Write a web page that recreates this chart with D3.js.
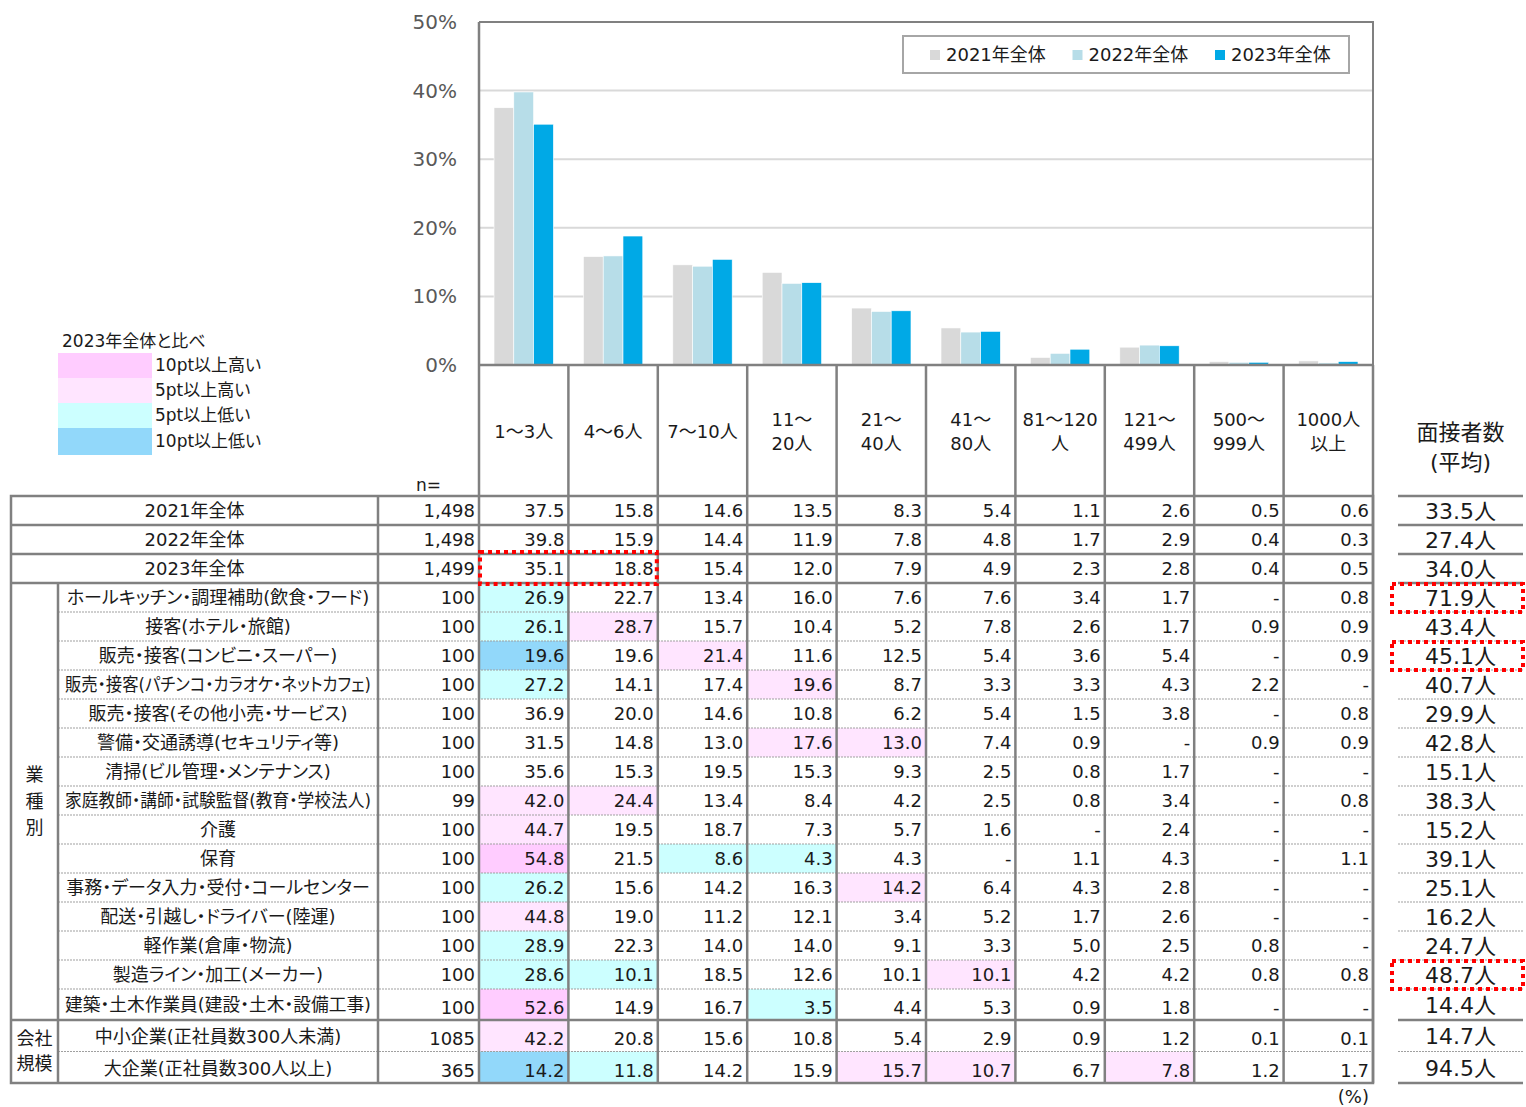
<!DOCTYPE html>
<html>
<head>
<meta charset="utf-8">
<script src="https://cdn.jsdelivr.net/npm/d3@7"></script>
<style>
body { margin: 0; background: #fff; }
svg text { font-family: "DejaVu Sans", "Noto Sans CJK JP", sans-serif; fill: #1a1a1a; font-feature-settings: "palt"; }
</style>
</head>
<body>
<div id="chart"></div>
<script>
// ---- data ----
var categories = ["1～3人", "4～6人", "7～10人", "11～20人", "21～40人", "41～80人", "81～120人", "121～499人", "500～999人", "1000人以上"];
var headerLines = [["1～3人"], ["4～6人"], ["7～10人"], ["11～", "20人"], ["21～", "40人"], ["41～", "80人"],
    ["81～120", "人"], ["121～", "499人"], ["500～", "999人"], ["1000人", "以上"]];
var seriesNames = ["2021年全体", "2022年全体", "2023年全体"];

var rowLabels = [
    "2021年全体", "2022年全体", "2023年全体",
    "ホールキッチン・調理補助(飲食・フード)",
    "接客(ホテル・旅館)",
    "販売・接客(コンビニ・スーパー)",
    "販売・接客(パチンコ・カラオケ・ネットカフェ)",
    "販売・接客(その他小売・サービス)",
    "警備・交通誘導(セキュリティ等)",
    "清掃(ビル管理・メンテナンス)",
    "家庭教師・講師・試験監督(教育・学校法人)",
    "介護",
    "保育",
    "事務・データ入力・受付・コールセンター",
    "配送・引越し・ドライバー(陸運)",
    "軽作業(倉庫・物流)",
    "製造ライン・加工(メーカー)",
    "建築・土木作業員(建設・土木・設備工事)",
    "中小企業(正社員数300人未満)",
    "大企業(正社員数300人以上)"
];
var rowN = ["1,498", "1,498", "1,499", "100", "100", "100", "100", "100", "100", "100", "99", "100", "100",
    "100", "100", "100", "100", "100", "1085", "365"];
var rowValues = [
    [37.5, 15.8, 14.6, 13.5, 8.3, 5.4, 1.1, 2.6, 0.5, 0.6],
    [39.8, 15.9, 14.4, 11.9, 7.8, 4.8, 1.7, 2.9, 0.4, 0.3],
    [35.1, 18.8, 15.4, 12.0, 7.9, 4.9, 2.3, 2.8, 0.4, 0.5],
    [26.9, 22.7, 13.4, 16.0, 7.6, 7.6, 3.4, 1.7, null, 0.8],
    [26.1, 28.7, 15.7, 10.4, 5.2, 7.8, 2.6, 1.7, 0.9, 0.9],
    [19.6, 19.6, 21.4, 11.6, 12.5, 5.4, 3.6, 5.4, null, 0.9],
    [27.2, 14.1, 17.4, 19.6, 8.7, 3.3, 3.3, 4.3, 2.2, null],
    [36.9, 20.0, 14.6, 10.8, 6.2, 5.4, 1.5, 3.8, null, 0.8],
    [31.5, 14.8, 13.0, 17.6, 13.0, 7.4, 0.9, null, 0.9, 0.9],
    [35.6, 15.3, 19.5, 15.3, 9.3, 2.5, 0.8, 1.7, null, null],
    [42.0, 24.4, 13.4, 8.4, 4.2, 2.5, 0.8, 3.4, null, 0.8],
    [44.7, 19.5, 18.7, 7.3, 5.7, 1.6, null, 2.4, null, null],
    [54.8, 21.5, 8.6, 4.3, 4.3, null, 1.1, 4.3, null, 1.1],
    [26.2, 15.6, 14.2, 16.3, 14.2, 6.4, 4.3, 2.8, null, null],
    [44.8, 19.0, 11.2, 12.1, 3.4, 5.2, 1.7, 2.6, null, null],
    [28.9, 22.3, 14.0, 14.0, 9.1, 3.3, 5.0, 2.5, 0.8, null],
    [28.6, 10.1, 18.5, 12.6, 10.1, 10.1, 4.2, 4.2, 0.8, 0.8],
    [52.6, 14.9, 16.7, 3.5, 4.4, 5.3, 0.9, 1.8, null, null],
    [42.2, 20.8, 15.6, 10.8, 5.4, 2.9, 0.9, 1.2, 0.1, 0.1],
    [14.2, 11.8, 14.2, 15.9, 15.7, 10.7, 6.7, 7.8, 1.2, 1.7]
];
var interviewAvg = [33.5, 27.4, 34.0, 71.9, 43.4, 45.1, 40.7, 29.9, 42.8, 15.1, 38.3, 15.2, 39.1, 25.1, 16.2, 24.7, 48.7, 14.4, 14.7, 94.5];

var groupBlocks = [
    { lines: ["業", "種", "別"], from: 3, to: 17 },
    { lines: ["会社", "規模"], from: 18, to: 19 }
];
var shadeLabels = ["10pt以上高い", "5pt以上高い", "5pt以上低い", "10pt以上低い"];
var boxedCells = [[2, 0], [2, 1]];
var boxedAvg = [3, 5, 16];

// ---- layout ----
var width = 1526, height = 1107;
var plotL = 479, plotR = 1373, plotT = 22, plotB = 365;
var tableL = 11, groupR = 58, labelR = 378, tableT = 496;
var avgL = 1398, avgR = 1523;
var gray = "#808080";
var barColors = ["#d9d9d9", "#b7dde8", "#00a9e6"];
var shadeColors = ["#ffccff", "#ffe5ff", "#ccffff", "#92d8fa"];

var svg = d3.select("#chart").append("svg")
    .attr("width", width)
    .attr("height", height);

var x = d3.scaleBand().domain(categories).range([plotL, plotR]).paddingInner(0);
var bw = x.bandwidth();
var xs = d3.scaleBand().domain(seriesNames).range([bw * 0.168, bw * 0.832]);
var y = d3.scaleLinear().domain([0, 50]).range([plotB, plotT]);

// gridlines
svg.append("g").selectAll("line")
    .data([10, 20, 30, 40])
    .enter().append("line")
    .attr("x1", plotL).attr("x2", plotR)
    .attr("y1", function (d) { return y(d); })
    .attr("y2", function (d) { return y(d); })
    .attr("stroke", "#d9d9d9").attr("stroke-width", 2);

// bars
var groups = svg.append("g").selectAll("g")
    .data(categories)
    .enter().append("g")
    .attr("transform", function (d) { return "translate(" + x(d) + ",0)"; });

groups.selectAll("rect")
    .data(function (d, j) { return seriesNames.map(function (s, k) { return { s: s, k: k, v: rowValues[k][j] }; }); })
    .enter().append("rect")
    .attr("x", function (d) { return xs(d.s); })
    .attr("width", xs.bandwidth())
    .attr("y", function (d) { return y(d.v); })
    .attr("height", function (d) { return plotB - y(d.v); })
    .attr("fill", function (d) { return barColors[d.k]; })
    .attr("stroke", "#fff").attr("stroke-width", 0.6);

// y axis
var yAxis = svg.append("g")
    .attr("transform", "translate(" + plotL + ",0)")
    .call(d3.axisLeft(y).tickValues([0, 10, 20, 30, 40, 50]).tickFormat(function (d) { return d + "%"; })
        .tickSize(0).tickPadding(22));
yAxis.select(".domain").remove();
yAxis.selectAll("text")
    .style("font-size", "20px")
    .style("fill", "#595959")
    .style("font-family", "DejaVu Sans, Noto Sans CJK JP, sans-serif");

// plot frame
svg.append("path")
    .attr("d", "M" + plotL + "," + plotT + "H" + plotR + "V" + plotB)
    .attr("fill", "none").attr("stroke", gray).attr("stroke-width", 2);

// top legend
var legend = svg.append("g");
legend.append("rect")
    .attr("x", 903).attr("y", 36).attr("width", 446).attr("height", 37)
    .attr("fill", "#fff").attr("stroke", "#a6a6a6").attr("stroke-width", 2);
seriesNames.forEach(function (s, k) {
    var lx = 930 + k * 142.5;
    legend.append("rect").attr("x", lx).attr("y", 50).attr("width", 10).attr("height", 10).attr("fill", barColors[k]);
    legend.append("text").attr("x", lx + 16).attr("y", 55).attr("dy", "0.35em")
        .style("font-size", "18px").text(s);
});

// left shading legend
svg.append("text").attr("x", 62).attr("y", 341).attr("dy", "0.35em")
    .style("font-size", "17px").text("2023年全体と比べ");
var swTop = [353, 378, 403, 428, 455];
shadeLabels.forEach(function (s, k) {
    svg.append("rect").attr("x", 58).attr("y", swTop[k]).attr("width", 94).attr("height", swTop[k + 1] - swTop[k])
        .attr("fill", shadeColors[k]);
    svg.append("text").attr("x", 155).attr("y", (swTop[k] + swTop[k + 1]) / 2).attr("dy", "0.35em")
        .style("font-size", "17px").text(s);
});

// header labels
headerLines.forEach(function (lines, j) {
    var cx = x(categories[j]) + bw / 2;
    var y0 = lines.length === 1 ? 432 : 420;
    lines.forEach(function (t, m) {
        svg.append("text").attr("x", cx).attr("y", y0 + m * 24).attr("dy", "0.35em")
            .attr("text-anchor", "middle").style("font-size", "18px").text(t);
    });
});
svg.append("text").attr("x", 416).attr("y", 485).attr("dy", "0.35em").style("font-size", "17px").text("n=");
svg.append("text").attr("x", (avgL + avgR) / 2).attr("y", 432).attr("dy", "0.35em")
    .attr("text-anchor", "middle").style("font-size", "22px").text("面接者数");
svg.append("text").attr("x", (avgL + avgR) / 2).attr("y", 462).attr("dy", "0.35em")
    .attr("text-anchor", "middle").style("font-size", "22px").text("(平均)");

// rows
function rowHeight(i) { return i < 17 ? 29 : (i === 17 ? 31 : 31.5); }
var rowTops = [];
var acc = tableT;
rowLabels.forEach(function (d, i) { rowTops.push(acc); acc += rowHeight(i); });
var tableB = acc;

function shadeFor(v, base) {
    var d = Math.round(((v == null ? 0 : v) - base) * 10) / 10;
    if (d >= 10) return shadeColors[0];
    if (d >= 5) return shadeColors[1];
    if (d <= -10) return shadeColors[3];
    if (d <= -5) return shadeColors[2];
    return null;
}

var cells = svg.append("g");
var texts = svg.append("g");
rowLabels.forEach(function (label, i) {
    var top = rowTops[i], h = rowHeight(i), cy = top + h / 2;
    var vOff = i >= 17 ? 3 : 0;
    // label
    var lx = i < 3 ? (tableL + labelR) / 2 : (groupR + labelR) / 2;
    var lt = texts.append("text").attr("x", lx).attr("y", cy + (i >= 18 ? 1 : 0)).attr("dy", "0.35em")
        .attr("text-anchor", "middle").style("font-size", "18px").text(label);
    var maxW = labelR - groupR - 14;
    if (lt.node().getComputedTextLength() > maxW) {
        lt.attr("textLength", maxW).attr("lengthAdjust", "spacingAndGlyphs");
    }
    // n
    texts.append("text").attr("x", labelR + 97).attr("y", cy + vOff).attr("dy", "0.35em")
        .attr("text-anchor", "end").style("font-size", "18px").text(rowN[i]);
    // values
    rowValues[i].forEach(function (v, j) {
        var cx0 = x(categories[j]);
        if (i >= 3) {
            var c = shadeFor(v, rowValues[2][j]);
            if (c) cells.append("rect").attr("x", cx0).attr("y", top).attr("width", bw).attr("height", h).attr("fill", c);
        }
        texts.append("text").attr("x", cx0 + bw - 4).attr("y", cy + vOff).attr("dy", "0.35em")
            .attr("text-anchor", "end").style("font-size", "18px")
            .text(v == null ? "-" : v.toFixed(1));
    });
    // average
    texts.append("text").attr("x", (avgL + avgR) / 2).attr("y", cy + 1).attr("dy", "0.35em")
        .attr("text-anchor", "middle").style("font-size", "22px").text(interviewAvg[i].toFixed(1) + "人");
});

// group labels
groupBlocks.forEach(function (g) {
    var mid = (rowTops[g.from] + rowTops[g.to] + rowHeight(g.to)) / 2;
    var step = g.lines.length === 3 ? 26.5 : 25;
    g.lines.forEach(function (t, m) {
        texts.append("text").attr("x", (tableL + groupR) / 2)
            .attr("y", mid + (m - (g.lines.length - 1) / 2) * step).attr("dy", "0.35em")
            .attr("text-anchor", "middle").style("font-size", "18px").text(t);
    });
});

// table lines
var lines = svg.append("g").attr("fill", "none");
rowTops.forEach(function (top, i) {
    if (i === 0) return;
    var solid = i <= 3 || i === 18;
    lines.append("line")
        .attr("x1", solid ? tableL : groupR).attr("x2", plotR)
        .attr("y1", top).attr("y2", top)
        .attr("stroke", solid ? gray : "#a0a0a0")
        .attr("stroke-width", solid ? 2.5 : 1.2)
        .attr("stroke-dasharray", solid ? null : "2,1");
});
// average column lines
var avgLines = [tableT].concat(rowTops.slice(1)).concat([tableB]);
avgLines.forEach(function (yy, k) {
    var solid = k <= 3 || k === 18 || k === avgLines.length - 1;
    lines.append("line")
        .attr("x1", avgL).attr("x2", avgR).attr("y1", yy).attr("y2", yy)
        .attr("stroke", solid ? gray : "#a0a0a0")
        .attr("stroke-width", solid ? 2.5 : 1.2)
        .attr("stroke-dasharray", solid ? null : "2,1");
});
// verticals
categories.forEach(function (c, j) {
    lines.append("line").attr("x1", x(c) + bw).attr("x2", x(c) + bw)
        .attr("y1", plotB).attr("y2", tableB).attr("stroke", gray).attr("stroke-width", 2.5);
});
lines.append("line").attr("x1", plotL).attr("x2", plotL).attr("y1", plotT).attr("y2", tableB)
    .attr("stroke", gray).attr("stroke-width", 2.5);
lines.append("line").attr("x1", plotL).attr("x2", plotR).attr("y1", plotB).attr("y2", plotB)
    .attr("stroke", gray).attr("stroke-width", 2.5);
lines.append("line").attr("x1", labelR).attr("x2", labelR).attr("y1", tableT).attr("y2", tableB)
    .attr("stroke", gray).attr("stroke-width", 2.5);
lines.append("line").attr("x1", groupR).attr("x2", groupR).attr("y1", rowTops[3]).attr("y2", tableB)
    .attr("stroke", gray).attr("stroke-width", 2.5);
lines.append("rect").attr("x", tableL).attr("y", tableT).attr("width", plotR - tableL).attr("height", tableB - tableT)
    .attr("stroke", gray).attr("stroke-width", 2.5);

// red dotted boxes
var boxes = svg.append("g").attr("fill", "none").attr("stroke", "#ff0000")
    .attr("stroke-width", 4).attr("stroke-dasharray", "4,4");
var bc0 = boxedCells[0], bc1 = boxedCells[boxedCells.length - 1];
boxes.append("rect")
    .attr("x", x(categories[bc0[1]]) + 1)
    .attr("y", rowTops[bc0[0]] - 2)
    .attr("width", x(categories[bc1[1]]) + bw - x(categories[bc0[1]]) - 2)
    .attr("height", rowHeight(bc0[0]) + 3);
boxedAvg.forEach(function (i) {
    boxes.append("rect").attr("x", 1392).attr("y", rowTops[i] + 1)
        .attr("width", 131).attr("height", rowHeight(i) - 1);
});

// unit
svg.append("text").attr("x", plotR - 4).attr("y", 1097).attr("dy", "0.35em")
    .attr("text-anchor", "end").style("font-size", "18px").text("(%)");
</script>
</body>
</html>
